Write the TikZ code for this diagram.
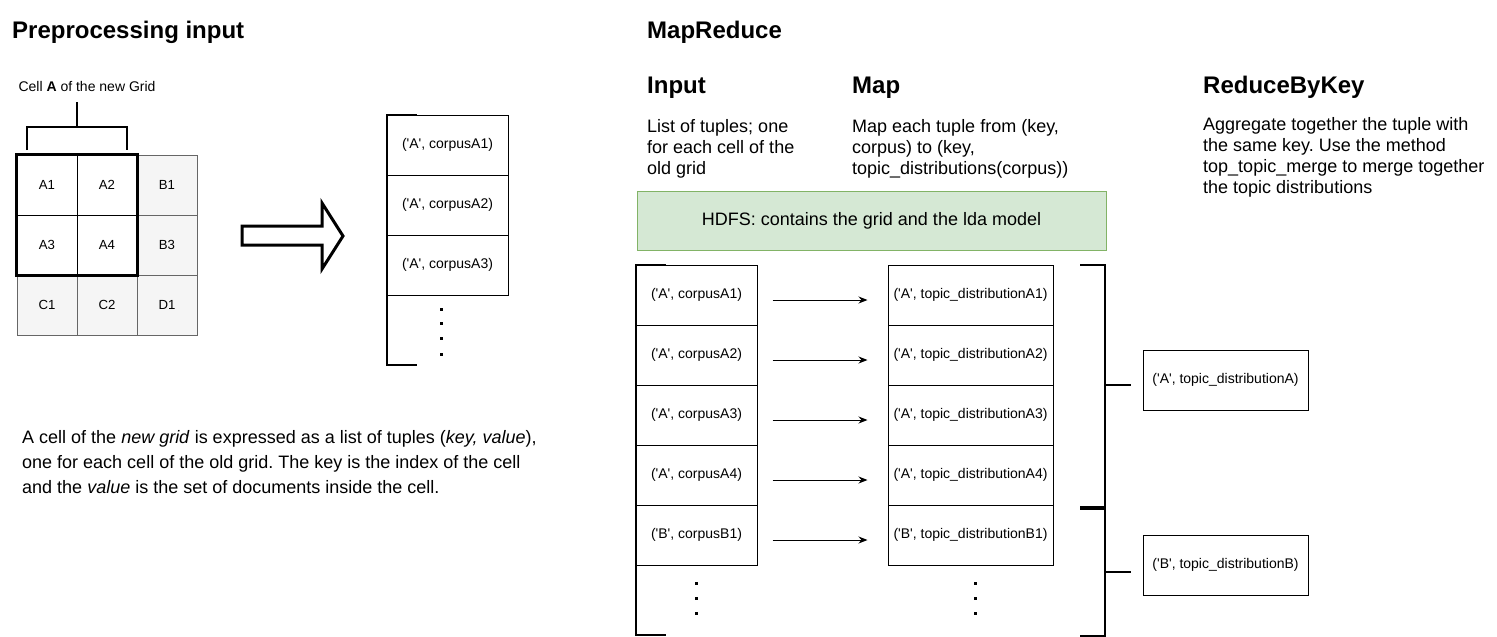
\documentclass[tikz,border=0pt]{standalone}
\usepackage{fontspec}
\setmainfont{Liberation Sans}
\usetikzlibrary{arrows.meta}
\definecolor{greyfill}{HTML}{F5F5F5}
\definecolor{greydraw}{HTML}{666666}
\definecolor{hdfsfill}{HTML}{D5E8D4}
\definecolor{hdfsdraw}{HTML}{82B366}
\newcommand{\q}{\textquotesingle}
\frenchspacing
\begin{document}
\begin{tikzpicture}[x=1pt,y=-1pt,
  cell/.style={draw=black, line width=1pt, minimum width=60pt, minimum height=60pt, inner sep=0pt, font=\fontsize{13.2}{15}\selectfont},
  greycell/.style={cell, fill=greyfill, draw=greydraw},
  tuple/.style={draw=black, line width=1pt, minimum height=60pt, inner sep=0pt, font=\fontsize{14}{17}\selectfont},
  heading/.style={anchor=base west, inner sep=0pt, font=\fontsize{24}{28}\selectfont\bfseries},
  body/.style={anchor=base west, inner sep=0pt, align=left, font=\fontsize{18}{21}\selectfont},
  bracket/.style={draw=black, line width=2pt},
  dotmark/.style={fill=black, minimum size=3pt, inner sep=0pt},
  flow/.style={-{Stealth[length=9pt,width=7pt]}, line width=1pt, shorten <=15pt, shorten >=20pt}
]
\useasboundingbox (0,0) rectangle (1497,637);

% ---------- Preprocessing input ----------
\node[heading] (title1) at (12,38) {Preprocessing input};
\node[anchor=base, inner sep=0pt, font=\fontsize{14}{16}\selectfont] (celllabel) at (87,91) {Cell \textbf{A} of the new Grid};

\node[cell] (A1) at (47,185) {A1};
\node[cell] (A2) at (107,185) {A2};
\node[greycell] (B1) at (167,185) {B1};
\node[cell] (A3) at (47,245) {A3};
\node[cell] (A4) at (107,245) {A4};
\node[greycell] (B3) at (167,245) {B3};
\node[greycell] (C1) at (47,305) {C1};
\node[greycell] (C2) at (107,305) {C2};
\node[greycell] (D1) at (167,305) {D1};
\draw[line width=3pt] (A1.north west) rectangle (A4.south east);

\coordinate (stemtop) at (77,102);
\draw[line width=1.5pt] (27,150) -- (27,127) -- (127,127) -- (127,150);
\draw[line width=1.5pt] (77,127) -- (stemtop);

\draw[line width=3pt, line join=miter] (242,226) -- (322,226) -- (322,203) -- (343,236) -- (322,269) -- (322,245) -- (242,245) -- cycle;

\node[tuple, minimum width=121pt] (l1) at (447.5,145) {(\q A\q, corpusA1)};
\node[tuple, minimum width=121pt] (l2) at (447.5,205) {(\q A\q, corpusA2)};
\node[tuple, minimum width=121pt] (l3) at (447.5,265) {(\q A\q, corpusA3)};
\draw[bracket] (417,115) -- (387,115) -- (387,365) -- (417,365);
\foreach \y in {309,323,338,354} \node[dotmark] at (441,\y) {};

\node[body, font=\fontsize{18}{25}\selectfont] (desc) at (22,493) {A cell of the \textit{new grid} is expressed as a list of tuples (\textit{key, value}),\\one for each cell of the old grid. The key is the index of the cell\\and the \textit{value} is the set of documents inside the cell.};

% ---------- MapReduce ----------
\node[heading] (title2) at (647,38) {MapReduce};
\node[heading] (hinput) at (647,93) {Input};
\node[heading] (hmap) at (852,93) {Map};
\node[heading] (hreduce) at (1203,93) {ReduceByKey};

\node[body] (tinput) at (647,174) {List of tuples; one\\for each cell of the\\old grid};
\node[body] (tmap) at (852,174) {Map each tuple from (key,\\corpus) to (key,\\topic\_distributions(corpus))};
\node[body] (treduce) at (1203,193) {Aggregate together the tuple with\\the same key. Use the method\\top\_topic\_merge to merge together\\the topic distributions};

\node[draw=hdfsdraw, fill=hdfsfill, line width=1pt, minimum width=469pt, minimum height=59pt, inner sep=0pt, font=\fontsize{18}{21}\selectfont] (hdfs) at (871.5,220.5) {HDFS: contains the grid and the lda model};

\foreach \i/\k/\c in {1/A/A1,2/A/A2,3/A/A3,4/A/A4,5/B/B1} {
  \node[tuple, minimum width=121pt] (i\i) at (696.5,235+60*\i) {(\q\k\q, corpus\c)};
  \node[tuple, minimum width=165pt] (m\i) at (970.5,235+60*\i) {(\q\k\q, topic\_distribution\c)};
  \draw[flow] ([yshift=-5pt]i\i.east) -- ([yshift=-5pt]m\i.west);
}
\draw[bracket] (666,265) -- (636,265) -- (636,635) -- (666,635);
\foreach \y in {583,598,613} {
  \node[dotmark] at (696,\y) {};
  \node[dotmark] at (975,\y) {};
}

\draw[bracket] (1080,265) -- (1105,265) -- (1105,507) -- (1080,507);
\draw[bracket] (1105,385) -- (1131,385);
\draw[bracket] (1080,509) -- (1105,509) -- (1105,636) -- (1080,636);
\draw[bracket] (1105,572) -- (1131,572);

\node[tuple, minimum width=165pt] (rA) at (1225.5,380) {(\q A\q, topic\_distributionA)};
\node[tuple, minimum width=165pt] (rB) at (1225.5,565) {(\q B\q, topic\_distributionB)};
\end{tikzpicture}
\end{document}
